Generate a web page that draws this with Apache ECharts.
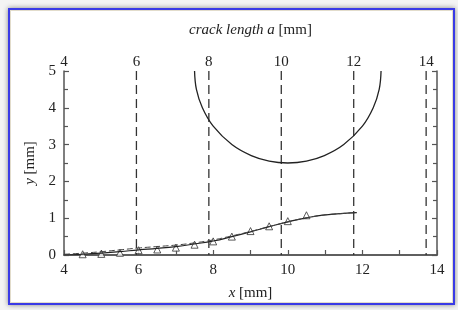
<!DOCTYPE html>
<html>
<head>
<meta charset="utf-8">
<script src="https://cdn.jsdelivr.net/npm/echarts@6/dist/echarts.min.js"></script>
<style>
html,body{margin:0;padding:0;background:#f4f4f4;}
#frame{position:absolute;left:8px;top:8px;width:443px;height:293px;border:2px solid #3a3ae6;background:#fff;box-shadow:0 0 5px rgba(0,0,0,0.45), inset 0 0 0 1px #e2dccb;}
#chart{position:absolute;left:0;top:0;width:458px;height:310px;}
</style>
</head>
<body>
<div id="frame"></div>
<div id="chart"></div>
<script>
// bottom axis x [mm]
const xTicks = [4, 6, 8, 10, 12, 14];
// top axis crack length a [mm]
const aTicks = [4, 6, 8, 10, 12, 14];
const yTicks = [0, 1, 2, 3, 4, 5];
// dashed crack-length markers (top axis values)
const crackMarks = [6, 8, 10, 12, 14];
// measured points (triangles)
const ptsX = [4.5, 5, 5.5, 6, 6.5, 7, 7.5, 8, 8.5, 9, 9.5, 10, 10.5];
const ptsY = [0.02, 0.03, 0.06, 0.13, 0.15, 0.2, 0.28, 0.37, 0.5, 0.65, 0.78, 0.92, 1.08];
// solid fitted curve
const curveX = [4, 4.5, 5, 5.5, 6, 6.5, 7, 7.5, 8, 8.5, 9, 9.5, 10, 10.5, 11, 11.5, 11.85];
const curveY = [0, 0.02, 0.05, 0.09, 0.14, 0.18, 0.23, 0.3, 0.38, 0.5, 0.63, 0.77, 0.9, 1.01, 1.09, 1.13, 1.15];
// dashed curve
const dashY = [0.02, 0.05, 0.09, 0.14, 0.19, 0.23, 0.27, 0.33, 0.41, 0.52, 0.64, 0.77, 0.9, 1.01, 1.09, 1.13, 1.15];
// semicircle (crack front) read points
const arcX = [7.5, 7.55, 7.71, 8.0, 8.5, 9.02, 9.5, 10, 10.5, 10.98, 11.5, 12.0, 12.29, 12.45, 12.5];
const arcY = [5, 4.5, 4.0, 3.5, 3.0, 2.7, 2.55, 2.5, 2.55, 2.7, 3.0, 3.5, 4.0, 4.5, 5];

const zip = (a, b) => a.map((v, i) => [v, b[i]]);
const font = 'Liberation Serif';
const txt = '#222';
const axisCol = '#555';

const chart = echarts.init(document.getElementById('chart'), null, {renderer: 'canvas'});

const series = [];
crackMarks.forEach(m => {
  series.push({
    type: 'line', xAxisIndex: 1, yAxisIndex: 0,
    data: [[m, 5], [m, 0]], symbol: 'none', silent: true,
    lineStyle: {color: '#333', width: 1.3, type: [9, 5]}
  });
});
series.push({
  type: 'line', xAxisIndex: 0, yAxisIndex: 0, data: zip(arcX, arcY),
  symbol: 'none', smooth: 0.4, lineStyle: {color: '#222', width: 1.3}
});
series.push({
  type: 'line', xAxisIndex: 0, yAxisIndex: 0, data: zip(curveX, curveY),
  symbol: 'none', smooth: true, lineStyle: {color: '#222', width: 1.2}
});
series.push({
  type: 'line', xAxisIndex: 0, yAxisIndex: 0, data: zip(curveX, dashY),
  symbol: 'none', smooth: true, lineStyle: {color: '#444', width: 1, type: [6, 3]}
});
series.push({
  type: 'scatter', xAxisIndex: 0, yAxisIndex: 0, data: zip(ptsX, ptsY),
  symbol: 'triangle', symbolSize: 7,
  itemStyle: {color: '#fff', borderColor: '#333', borderWidth: 1}
});

const labelStyle = {color: txt, fontFamily: font, fontSize: 15};
const nameStyle = {color: txt, fontFamily: font, fontSize: 15, rich: {i: {fontStyle: 'italic', fontFamily: font, fontSize: 15, color: txt}}};

chart.setOption({
  animation: false,
  backgroundColor: 'transparent',
  grid: {left: 64, top: 71, right: 21, bottom: 55, containLabel: false, outerBoundsMode: 'none'},
  xAxis: [
    {
      type: 'value', position: 'bottom', min: xTicks[0], max: xTicks[xTicks.length - 1], interval: 2,
      name: '{i|x} [mm]', nameLocation: 'middle', nameGap: 31,
      nameTextStyle: nameStyle,
      axisLine: {show: true, lineStyle: {color: axisCol, width: 1.5}},
      axisTick: {show: true, inside: true, length: 5, lineStyle: {color: axisCol, width: 1.2}},
      minorTick: {show: true, splitNumber: 2, length: 5, lineStyle: {color: axisCol, width: 1.2}},
      axisLabel: Object.assign({margin: 8}, labelStyle),
      splitLine: {show: false}, minorSplitLine: {show: false}
    },
    {
      type: 'value', position: 'top', min: aTicks[0], max: 14.3, interval: 2,
      name: '{i|crack length a} [mm]', nameLocation: 'middle', nameGap: 33,
      nameTextStyle: nameStyle,
      axisLine: {show: true, lineStyle: {color: axisCol, width: 1.5}},
      axisTick: {show: false},
      axisLabel: Object.assign({margin: 1, formatter: v => (aTicks.indexOf(v) >= 0 ? String(v) : '')}, labelStyle),
      splitLine: {show: false}
    }
  ],
  yAxis: [
    {
      type: 'value', position: 'left', min: yTicks[0], max: yTicks[yTicks.length - 1], interval: 1,
      name: '{i|y} [mm]', nameLocation: 'middle', nameGap: 26,
      nameTextStyle: nameStyle,
      axisLine: {show: true, lineStyle: {color: axisCol, width: 1.5}},
      axisTick: {show: true, inside: true, length: 5, lineStyle: {color: axisCol, width: 1.2}},
      minorTick: {show: true, splitNumber: 2, length: 4, lineStyle: {color: axisCol, width: 1.2}},
      axisLabel: Object.assign({margin: 8}, labelStyle),
      splitLine: {show: false}, minorSplitLine: {show: false}
    },
    {
      type: 'value', position: 'right', min: yTicks[0], max: yTicks[yTicks.length - 1], interval: 1,
      axisLine: {show: true, lineStyle: {color: axisCol, width: 1.5}},
      axisTick: {show: true, inside: true, length: 5, lineStyle: {color: axisCol, width: 1.2}},
      minorTick: {show: true, splitNumber: 2, length: 4, lineStyle: {color: axisCol, width: 1.2}},
      axisLabel: {show: false},
      splitLine: {show: false}, minorSplitLine: {show: false}
    }
  ],
  series: series
});
</script>
</body>
</html>
